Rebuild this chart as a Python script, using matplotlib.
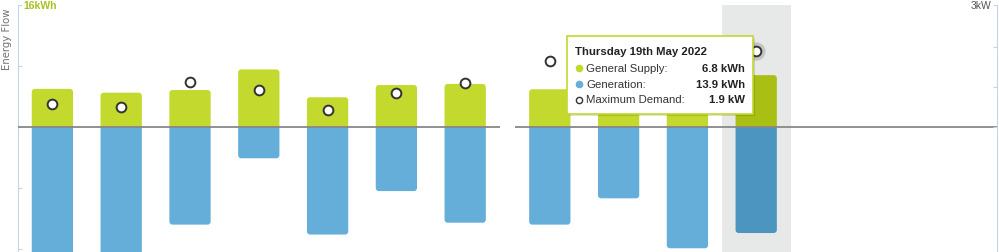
import matplotlib.pyplot as plt
from matplotlib.patches import FancyBboxPatch, Rectangle

# two weeks, Mon 9 May - Sun 22 May 2022 (no data yet for the last three days)
days = ['Mon 9', 'Tue 10', 'Wed 11', 'Thu 12', 'Fri 13', 'Sat 14', 'Sun 15',
        'Mon 16', 'Tue 17', 'Wed 18', 'Thu 19', 'Fri 20', 'Sat 21', 'Sun 22']
supply = [5.0, 4.5, 4.85, 7.55, 3.9, 5.5, 5.65, 4.95, 5.2, 6.0, 6.8]         # kWh
generation = [17.0, 17.0, 12.8, 4.1, 14.1, 8.4, 12.55, 12.8, 9.35, 15.9, 13.9]  # kWh
max_demand = [0.58, 0.51, 1.13, 0.93, 0.43, 0.84, 1.1, 1.66, 1.2, 1.4, 1.9]  # kW
selected = 10

tooltip_title = 'Thursday 19th May 2022'
tooltip_labels = ['General Supply:', 'Generation:', 'Maximum Demand:']
tooltip_values = ['6.8 kWh', '13.9 kWh', '1.9 kW']

green = '#c3d92d'
green_dark = '#a9bf14'
blue = '#64aed9'
blue_dark = '#4b95c0'
axis_col = '#c8d3e6'

W, H = 999, 253
week_gap = 0.23
pos = [i + 0.5 + week_gap * (i // 7) for i in range(len(days))]
n = len(supply)


def px(x, y):
    # figure pixel (from top-left) -> figure fraction
    return x / W, 1 - y / H


def round_far_end(ax, bars, r, aspect):
    # swap each bar for a rounded box, clipped at zero so only the far end is rounded
    for rect in bars:
        x, w = rect.get_x(), rect.get_width()
        h = rect.get_height()
        ext = r * aspect
        if h >= 0:
            y0, y1, clip = -ext, h, Rectangle((x - 1, 0), w + 2, 100, transform=ax.transData)
        else:
            y0, y1, clip = h, ext, Rectangle((x - 1, -100), w + 2, 100, transform=ax.transData)
        p = FancyBboxPatch((x, y0), w, y1 - y0, boxstyle=f'round,pad=0,rounding_size={r}',
                           mutation_aspect=aspect, fc=rect.get_facecolor(), ec='none',
                           zorder=rect.get_zorder())
        ax.add_patch(p)
        p.set_clip_path(clip)
        rect.set_visible(False)


fig = plt.figure(figsize=(W / 100, H / 100), dpi=100)
ax = fig.add_axes([18 / W, 0, (997 - 18) / W, (H - 6) / H])
ax2 = ax.twinx()

ax.set_xlim(0, 7 * 2 + week_gap)
ax.set_ylim(-16.39, 16)
ax2.set_ylim(-3.125, 3.05)

# hover band on selected day
sel = pos[selected]
ax.axvspan(sel - 0.5, sel + 0.5, color='#e7e8e8', zorder=0, lw=0)

sup_cols = [green_dark if i == selected else green for i in range(n)]
gen_cols = [blue_dark if i == selected else blue for i in range(n)]
b1 = ax.bar(pos[:n], supply, width=0.6, color=sup_cols, zorder=2)
b2 = ax.bar(pos[:n], [-g for g in generation], width=0.6, color=gen_cols, zorder=2)
# pixels per data unit: x ~68.8, y ~7.63
aspect = 68.8 / 7.63
round_far_end(ax, b1, 0.045, aspect)
round_far_end(ax, b2, 0.045, aspect)

# zero line, broken between weeks
for w in range(2):
    x0 = w * (7 + week_gap)
    ax.plot([x0, x0 + 7], [0, 0], color='#888888', lw=1.3, zorder=3,
            solid_capstyle='butt')

# max demand markers
ax2.plot(sel, max_demand[selected], 'o', ms=13, color='#9a9a9a', alpha=0.45,
         mew=0, zorder=3)
ax2.plot(pos[:n], max_demand, 'o', ls='none', ms=7, mfc='white',
         mec='#333333', mew=1.4, zorder=4)

# axes styling
for a in (ax, ax2):
    a.spines['top'].set_visible(False)
    a.spines['bottom'].set_visible(False)
    a.spines['left'].set_color(axis_col)
    a.spines['right'].set_color(axis_col)
    a.set_xticks([])
ax.spines['right'].set_visible(False)
ax2.spines['left'].set_visible(False)
ax.set_yticks([-16, -8, 0, 8, 16])
ax.set_yticklabels([])
ax.tick_params(axis='y', direction='in', length=3, color=axis_col)
ax2.set_yticks([0, 1, 2, 3.05])
ax2.set_yticklabels([])
ax2.tick_params(axis='y', direction='in', length=3, color=axis_col)

ax.text(0.0055, 16, '16kWh', transform=ax.get_yaxis_transform(), ha='left',
        va='center', color='#a8c020', fontsize=7.5, fontweight='bold',
        family='Liberation Sans')
ax2.text(0.994, 3.05, '3kW', transform=ax2.get_yaxis_transform(), ha='right',
         va='center', color='#555555', fontsize=7.5, family='Liberation Sans')
fig.text(*px(7, 39), 'Energy Flow', rotation=90, ha='center', va='center',
         color='#707070', fontsize=7.3)

# tooltip
bx0, by0, bx1, by1 = 567, 37, 753, 115
shadow = FancyBboxPatch(px(bx0 + 1.5, by1 + 1.5), (bx1 - bx0) / W, (by1 - by0) / H,
                        boxstyle='square,pad=0', transform=fig.transFigure,
                        fc='#000000', alpha=0.12, ec='none', zorder=5)
box = FancyBboxPatch(px(bx0, by1), (bx1 - bx0) / W, (by1 - by0) / H,
                     boxstyle='square,pad=0', transform=fig.transFigure,
                     fc='white', ec=green, lw=1.2, zorder=6)
fig.patches.extend([shadow, box])
fig.text(*px(575, 52), tooltip_title, ha='left', va='center', fontsize=8.2,
         fontweight='bold', color='#222222', family='Liberation Sans', zorder=7)
dot_cols = [green, blue, 'white']
for k, (lab, val) in enumerate(zip(tooltip_labels, tooltip_values)):
    y = 68.5 + k * 16
    fig.lines.append(plt.Line2D([579 / W], [1 - y / H], marker='o', ms=4.5,
                                mfc=dot_cols[k],
                                mec='#333333' if k == 2 else dot_cols[k],
                                mew=1, transform=fig.transFigure, zorder=7))
    fig.text(*px(586, y), lab, ha='left', va='center', fontsize=8.2,
             color='#333333', family='Liberation Sans', zorder=7)
    fig.text(*px(745, y), val, ha='right', va='center', fontsize=8.2,
             fontweight='bold', color='#222222', family='Liberation Sans', zorder=7)

fig.savefig('out.png', dpi=100)
